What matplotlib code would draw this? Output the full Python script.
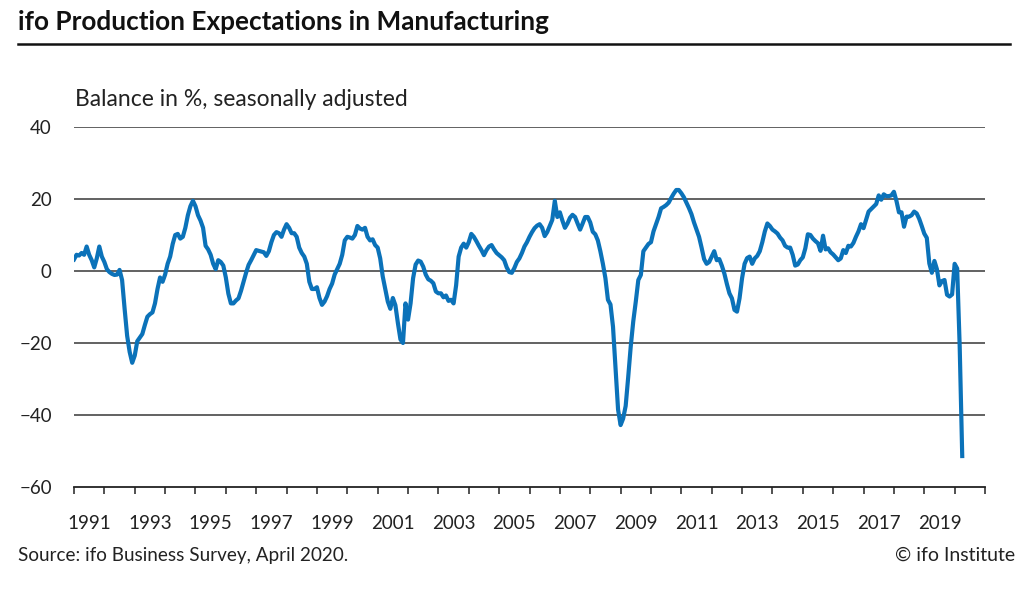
import matplotlib
matplotlib.use("Agg")
import matplotlib.pyplot as plt
import numpy as np

plt.rcParams['font.family'] = ['Lato', 'DejaVu Sans']

# monthly balance values (in %), Jan 1991 - Apr 2020, one list per year
v1991 = [3.2, 4.5, 4.3, 5.0, 4.5, 6.8, 4.5, 3.0, 1.0, 3.5, 6.8, 4.0]
v1992 = [2.5, 0.5, -0.3, -0.8, -1.1, -1.0, 0.3, -2.5, -10.5, -18.0, -22.5, -25.5]
v1993 = [-23.5, -19.5, -18.5, -17.5, -15.0, -12.7, -12.0, -11.5, -9.0, -5.0, -1.8, -3.0]
v1994 = [-1.0, 2.0, 4.0, 7.5, 10.0, 10.3, 9.0, 9.5, 12.0, 15.5, 18.0, 19.5]
v1995 = [18.0, 15.5, 14.0, 12.0, 7.0, 6.0, 4.5, 2.0, 0.5, 3.0, 2.5, 1.5]
v1996 = [-1.8, -6.3, -9.0, -9.0, -8.2, -7.6, -5.5, -3.0, -0.5, 1.7, 3.0, 4.4]
v1997 = [5.8, 5.6, 5.4, 5.2, 4.2, 5.5, 8.0, 10.0, 10.8, 10.5, 9.5, 11.5]
v1998 = [13.0, 12.0, 10.5, 10.5, 9.5, 6.5, 5.0, 4.0, 2.0, -3.0, -5.0, -5.0]
v1999 = [-4.5, -7.5, -9.4, -8.5, -7.0, -5.0, -3.5, -1.0, 0.5, 2.0, 4.5, 8.5]
v2000 = [9.5, 9.3, 9.0, 10.0, 12.5, 11.8, 11.5, 12.0, 9.5, 8.5, 8.8, 7.2]
v2001 = [6.5, 3.5, -1.5, -5.0, -8.5, -10.5, -7.5, -9.5, -14.5, -19.0, -20.0, -9.0]
v2002 = [-13.5, -9.0, -2.0, 1.8, 2.9, 2.6, 1.2, -1.0, -2.3, -2.7, -3.4, -5.7]
v2003 = [-6.2, -6.2, -7.3, -6.8, -8.3, -8.0, -9.0, -4.0, 4.0, 6.5, 7.6, 6.5]
v2004 = [8.0, 10.3, 9.5, 8.3, 7.0, 5.8, 4.4, 5.8, 6.8, 7.2, 6.0, 5.0]
v2005 = [4.4, 3.8, 3.0, 1.0, -0.3, -0.5, 0.8, 2.5, 3.5, 5.0, 6.8, 8.0]
v2006 = [9.5, 10.8, 11.9, 12.6, 13.0, 12.0, 9.7, 10.8, 12.5, 14.2, 19.5, 15.0]
v2007 = [16.3, 14.0, 12.0, 13.2, 14.8, 15.6, 15.0, 13.2, 11.5, 13.2, 15.0, 15.0]
v2008 = [13.5, 10.9, 10.2, 8.5, 5.5, 2.0, -2.0, -8.0, -9.3, -15.5, -27.0, -38.5]
v2009 = [-42.8, -41.0, -37.5, -29.5, -21.0, -14.0, -8.5, -2.5, -1.1, 5.5, 6.5, 7.5]
v2010 = [8.0, 11.0, 13.0, 15.0, 17.4, 17.8, 18.3, 19.0, 20.3, 21.5, 22.5, 22.5]
v2011 = [21.6, 20.5, 19.0, 17.5, 15.8, 13.5, 11.5, 9.5, 6.5, 3.3, 2.0, 2.5]
v2012 = [4.0, 5.5, 3.0, 3.3, 1.5, -0.7, -3.6, -6.2, -7.6, -10.8, -11.3, -7.6]
v2013 = [-2.0, 2.0, 3.6, 4.0, 2.0, 3.5, 4.2, 5.5, 8.0, 11.0, 13.2, 12.5]
v2014 = [11.5, 11.0, 10.4, 9.3, 8.5, 7.0, 6.5, 6.5, 4.5, 1.5, 1.8, 3.0]
v2015 = [3.8, 6.3, 10.2, 10.0, 9.0, 8.3, 7.7, 5.6, 9.8, 6.0, 6.3, 5.2]
v2016 = [4.6, 3.8, 3.0, 3.5, 5.8, 5.0, 7.0, 6.8, 7.8, 9.5, 11.0, 13.0]
v2017 = [11.9, 14.2, 16.5, 17.2, 17.9, 18.6, 21.0, 19.8, 21.3, 20.8, 20.8, 21.0]
v2018 = [22.0, 19.5, 16.3, 16.3, 12.3, 15.1, 15.1, 15.5, 16.5, 16.0, 14.5, 12.5]
v2019 = [10.4, 9.2, 2.1, -0.5, 2.8, 0.5, -4.0, -2.8, -2.5, -6.6, -7.1, -6.5]
v2020 = [2.0, 0.7, -21.0, -51.4]

yearly = [v1991, v1992, v1993, v1994, v1995, v1996, v1997, v1998, v1999, v2000,
          v2001, v2002, v2003, v2004, v2005, v2006, v2007, v2008, v2009, v2010,
          v2011, v2012, v2013, v2014, v2015, v2016, v2017, v2018, v2019, v2020]
values = np.concatenate(yearly)
t = 1991 + np.arange(len(values)) / 12.0

label_years = list(range(1991, 2020, 2))
y_ticks = [-60, -40, -20, 0, 20, 40]

fig = plt.figure(figsize=(10.24, 6.0), dpi=100)
ax = fig.add_axes([74 / 1024, 113 / 600, 911 / 1024, 360 / 600])

for yv in y_ticks[1:]:
    ax.axhline(yv, color='#555555', lw=1.3, zorder=1)

ax.plot(t, values, color='#0b72b9', lw=3.0, zorder=3, solid_joinstyle='round')

ax.set_xlim(1991, 2021)
ax.set_ylim(-60, 40)
for s in ['top', 'right', 'left']:
    ax.spines[s].set_visible(False)
ax.spines['bottom'].set_color('#222222')
ax.spines['bottom'].set_linewidth(1.3)

ax.set_xticks(range(1991, 2022))
ax.set_xticklabels([])
ax.tick_params(axis='x', which='major', direction='out', length=5, width=1.1, color='#222222')
ax.set_xticks([y + 0.5 for y in label_years], minor=True)
ax.set_xticklabels([str(y) for y in label_years], minor=True)
ax.tick_params(axis='x', which='minor', length=0, pad=20, labelsize=13.5, labelcolor='#222222')

ax.set_yticks(y_ticks)
ax.tick_params(axis='y', length=0, pad=16, labelsize=13.5, labelcolor='#222222')

fig.text(18 / 1024, 1 - 22 / 600, 'ifo Production Expectations in Manufacturing',
         fontsize=18.8, fontweight='bold', color='#111111', va='center', ha='left')
fig.add_artist(plt.Line2D([18 / 1024, 1010 / 1024], [1 - 44 / 600, 1 - 44 / 600],
                          color='#111111', lw=1.8))
fig.text(75 / 1024, 1 - 100 / 600, 'Balance in %, seasonally adjusted',
         fontsize=16.5, color='#222222', va='center', ha='left')
fig.text(18 / 1024, 1 - 555 / 600, 'Source: ifo Business Survey, April 2020.',
         fontsize=13.6, color='#222222', va='center', ha='left')
fig.text(1015 / 1024, 1 - 555 / 600, '\u00a9 ifo Institute',
         fontsize=14, color='#222222', va='center', ha='right')

fig.savefig('out.png', dpi=100, facecolor='white')
